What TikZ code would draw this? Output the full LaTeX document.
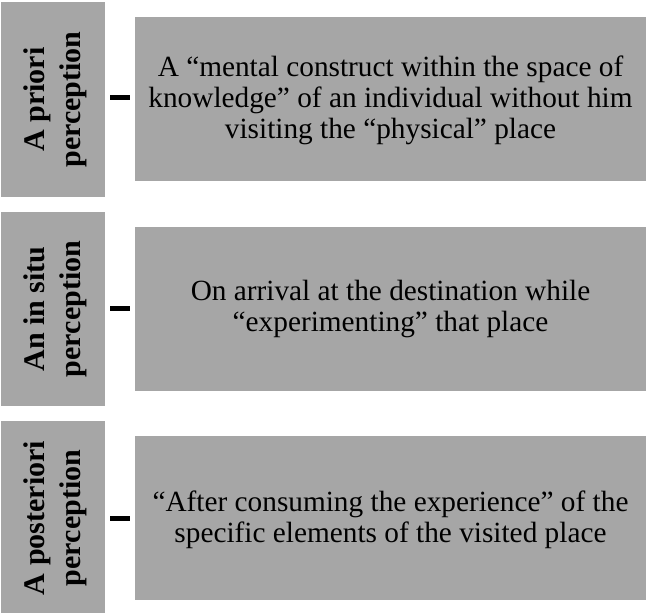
\documentclass[tikz,border=0pt]{standalone}
\usepackage{fontspec}
\setmainfont{Liberation Serif}
\begin{document}
\begin{tikzpicture}[x=1pt,y=-1pt,
  label/.style={rotate=90,font=\bfseries\fontsize{30}{36}\selectfont,align=center},
  desc/.style={font=\fontsize{29.3}{31}\selectfont,align=center},
  barline/.style={line width=5pt}]
\definecolor{boxgray}{HTML}{A6A6A6}
\useasboundingbox (0,0) rectangle (646,614);
% row 1
\fill[boxgray] (1,2) rectangle (105,197);
\node[label] (l1) at (55,99.5) {A priori\\perception};
\fill[boxgray] (135,17) rectangle (646,181);
\node[desc] (d1) at (390.5,100) {A “mental construct within the space of\\knowledge” of an individual without him\\visiting the “physical” place};
\coordinate (a1) at (110,97);
\coordinate (b1) at (130,97);
\draw[barline] (a1) -- (b1);
% row 2
\fill[boxgray] (1,212) rectangle (105,406);
\node[label] (l2) at (55,309) {An in situ\\perception};
\fill[boxgray] (135,227) rectangle (646,391);
\node[desc] (d2) at (390.5,309) {On arrival at the destination while\\“experimenting” that place};
\coordinate (a2) at (110,308);
\coordinate (b2) at (130,308);
\draw[barline] (a2) -- (b2);
% row 3
\fill[boxgray] (1,421) rectangle (105,613);
\node[label] (l3) at (55,518) {A posteriori\\perception};
\fill[boxgray] (135,436) rectangle (646,600);
\node[desc] (d3) at (390.5,520) {“After consuming the experience” of the\\specific elements of the visited place};
\coordinate (a3) at (110,518);
\coordinate (b3) at (130,518);
\draw[barline] (a3) -- (b3);
\end{tikzpicture}
\end{document}
